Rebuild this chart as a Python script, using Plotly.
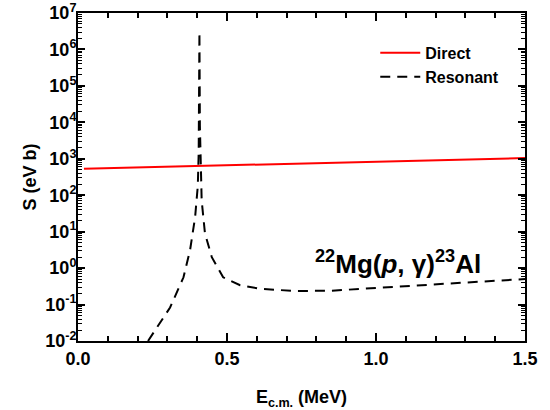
import plotly.graph_objects as go

# Direct capture S-factor (eV b)
direct_E = [0.02, 0.2, 0.4, 0.6, 0.75, 1.0, 1.25, 1.5]
direct_S = [530, 575, 620, 670, 720, 820, 930, 1050]

# Resonant S-factor (eV b)
res_E = [0.235, 0.27, 0.309, 0.354, 0.376, 0.393, 0.402, 0.405, 0.4065, 0.4075,
         0.409, 0.412, 0.415, 0.426, 0.449, 0.487, 0.544, 0.611, 0.73, 0.85,
         1.0, 1.25, 1.5]
res_S = [0.01, 0.028, 0.083, 0.56, 3.1, 25, 180, 1500, 60000, 3.0e6,
         8000, 400, 72, 9, 2.0, 0.56, 0.34, 0.27, 0.235, 0.24,
         0.29, 0.38, 0.50]

y_exponents = [-2, -1, 0, 1, 2, 3, 4, 5, 6, 7]
y_tickvals = [10.0 ** e for e in y_exponents]
y_ticktext = ["10<sup>%d</sup>" % e for e in y_exponents]
y_minor_mult = [2, 3, 4, 5, 6, 7, 8, 9]
y_minorvals = [m * 10.0 ** e for e in y_exponents[:-1] for m in y_minor_mult]
x_tickvals = [0.0, 0.5, 1.0, 1.5]
x_ticktext = ["0.0", "0.5", "1.0", "1.5"]

font_family = "Liberation Sans, Arial, sans-serif"

fig = go.Figure()
fig.add_trace(go.Scatter(x=direct_E, y=direct_S, mode="lines", name="Direct",
                         line=dict(color="#ff0000", width=2)))
fig.add_trace(go.Scatter(x=res_E, y=res_S, mode="lines", name="Resonant",
                         line=dict(color="black", width=2, dash="10px,7px")))

fig.update_layout(
    width=550, height=410,
    margin=dict(l=78, r=25, t=13, b=69),
    paper_bgcolor="white", plot_bgcolor="white",
    font=dict(family=font_family, color="black", size=16, weight="bold"),
    showlegend=True,
    legend=dict(x=0.665, y=0.93, xanchor="left", yanchor="top", itemwidth=40,
                bgcolor="rgba(0,0,0,0)", font=dict(size=16, weight="bold"), tracegroupgap=0),
    xaxis=dict(range=[0, 1.5], tickvals=x_tickvals, ticktext=x_ticktext,
               ticks="inside", ticklen=8, tickwidth=2, tickcolor="black",
               minor=dict(ticks="inside", ticklen=5, tickwidth=1.5, dtick=0.1, tickcolor="black"),
               showline=True, linewidth=2, linecolor="black", mirror="ticks",
               showgrid=False, zeroline=False, automargin=False,
               tickfont=dict(size=18, weight="bold"),
               title=dict(text="E<sub>c.m.</sub> (MeV)", font=dict(size=18, weight="bold"), standoff=25)),
    yaxis=dict(type="log", range=[-2, 7], tickvals=y_tickvals, ticktext=y_ticktext,
               ticks="inside", ticklen=7, tickwidth=2, tickcolor="black",
               ticklabelstandoff=-4,
               minor=dict(ticks="inside", ticklen=4, tickwidth=1, tickvals=y_minorvals,
                          tickcolor="black"),
               showline=True, linewidth=2, linecolor="black", mirror="ticks",
               showgrid=False, zeroline=False, automargin=False,
               tickfont=dict(size=18, weight="bold"),
               title=dict(text="S (eV b)", font=dict(size=18, weight="bold"), standoff=4)),
    annotations=[dict(x=0.716, y=0.238, xref="paper", yref="paper",
                      text="<sup>22</sup>Mg(<i>p</i>, γ)<sup>23</sup>Al",
                      showarrow=False, font=dict(size=26, weight="bold"),
                      xanchor="center", yanchor="middle")],
)

# remove the default 8px page margin so the 550x410 figure fills the window exactly
fig.write_html("out.html", config={"displayModeBar": False},
               post_script="document.body.style.margin='0';")
